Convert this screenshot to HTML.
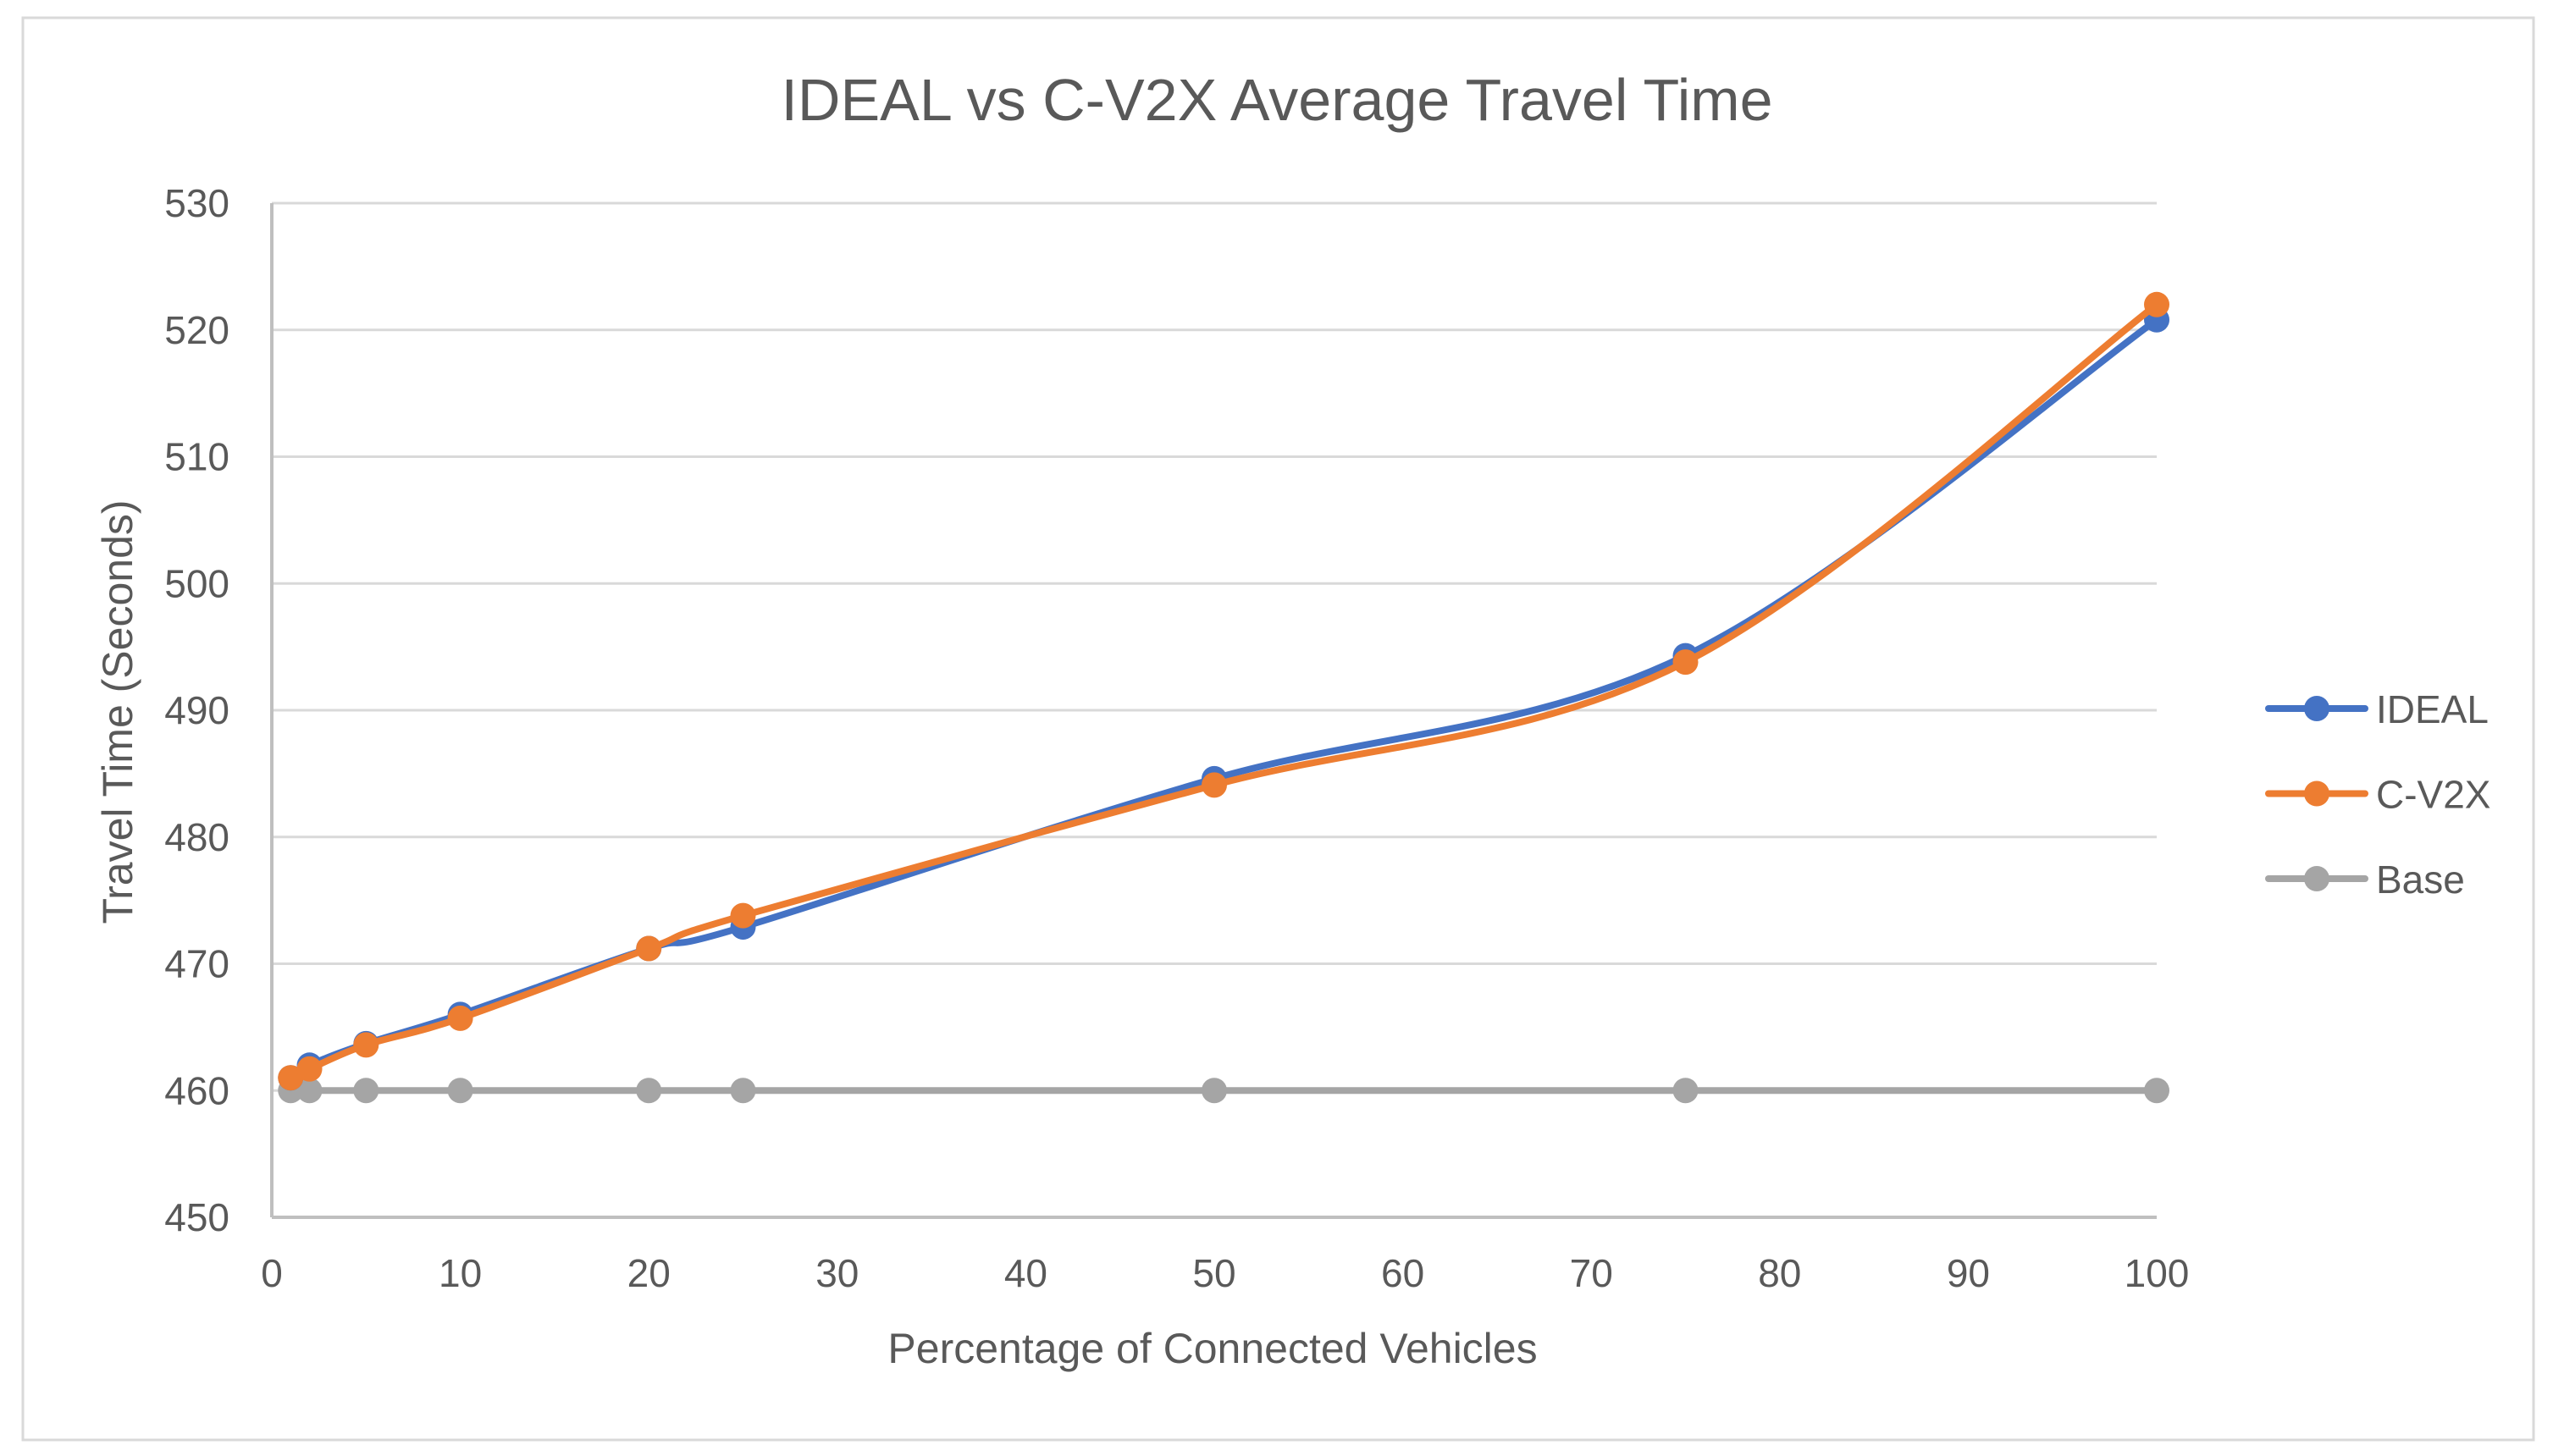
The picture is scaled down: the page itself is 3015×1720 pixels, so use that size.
<!DOCTYPE html>
<html><head><meta charset="utf-8"><style>
html,body{margin:0;padding:0;background:#fff}
svg{display:block;font-family:"Liberation Sans",sans-serif}
</style></head><body>
<svg id="chart" width="3015" height="1720" viewBox="0 0 3015 1720">
<rect x="27" y="21" width="2965" height="1680" fill="#fff" stroke="#d9d9d9" stroke-width="3"/>
<text x="1508" y="142" text-anchor="middle" font-size="70" fill="#595959">IDEAL vs C-V2X Average Travel Time</text>
<g id="grid"></g><g id="axes"></g><g id="series"></g>
<text transform="translate(156,841) rotate(-90)" text-anchor="middle" font-size="50" fill="#595959">Travel Time (Seconds)</text>
<text x="1432" y="1610" text-anchor="middle" font-size="50" fill="#595959">Percentage of Connected Vehicles</text>
<g id="legend"></g>
</svg>
<script>
const xValues=[1,2,5,10,20,25,50,75,100];
const idealValues=[461,462,463.7,466,471.2,472.9,484.6,494.3,520.8];
const cv2xValues=[461,461.7,463.6,465.7,471.2,473.8,484.1,493.8,522];
const baseValues=[460,460,460,460,460,460,460,460,460];
const yTicks=[450,460,470,480,490,500,510,520,530];
const xTicks=[0,10,20,30,40,50,60,70,80,90,100];
const seriesNames=["IDEAL","C-V2X","Base"];
const NS="http://www.w3.org/2000/svg";
const L=321,R=2547,T=240,B=1438;
const sx=v=>L+(v-0)/(100-0)*(R-L);
const sy=v=>B-(v-450)/(530-450)*(B-T);
function mk(tag,attrs,parent){const e=document.createElementNS(NS,tag);for(const k in attrs)e.setAttribute(k,attrs[k]);parent.appendChild(e);return e;}
const grid=document.getElementById('grid'),axes=document.getElementById('axes'),ser=document.getElementById('series'),leg=document.getElementById('legend');
yTicks.forEach(t=>{
 if(t!==450){const g=mk('line',{x1:L,x2:R,y1:sy(t),y2:sy(t),stroke:'#d9d9d9','stroke-width':3},grid);
 
 }
 const tx=mk('text',{x:L-50,y:sy(t)+16,'text-anchor':'end','font-size':46,fill:'#595959'},axes);tx.textContent=t;
 
 
});
xTicks.forEach(t=>{
 const tx=mk('text',{x:sx(t),y:B+82,'text-anchor':'middle','font-size':46,fill:'#595959'},axes);tx.textContent=t;
 
 
});
const ax=mk('line',{x1:L,x2:L,y1:T,y2:B,stroke:'#bfbfbf','stroke-width':4},axes);


const ax2=mk('line',{x1:L,x2:R,y1:B,y2:B,stroke:'#bfbfbf','stroke-width':4},axes);


function smoothPath(pts){
 let d='M'+pts[0][0]+','+pts[0][1];
 for(let i=0;i<pts.length-1;i++){
  const p0=pts[Math.max(0,i-1)],p1=pts[i],p2=pts[i+1],p3=pts[Math.min(pts.length-1,i+2)];
  const c1=[p1[0]+(p2[0]-p0[0])/6,p1[1]+(p2[1]-p0[1])/6];
  const c2=[p2[0]-(p3[0]-p1[0])/6,p2[1]-(p3[1]-p1[1])/6];
  d+=' C'+c1+' '+c2+' '+p2;
 }
 return d;
}
const colors=['#4472c4','#ed7d31','#a5a5a5'];
const all=[idealValues,cv2xValues,baseValues];
[2,0,1].forEach(si=>{
 const vals=all[si],pts=xValues.map((x,i)=>[sx(x),sy(vals[i])]);
 const g=mk('g',{},ser);
 
 
 const p=mk('path',{d:smoothPath(pts),fill:'none',stroke:colors[si],'stroke-width':8,'stroke-linecap':'round'},g);
 
 
 pts.forEach((pt,i)=>{const c=mk('circle',{cx:pt[0],cy:pt[1],r:15,fill:colors[si]},g);
  
  });
});
seriesNames.forEach((n,i)=>{
 const y=837+i*100.5;
 const g=mk('g',{},leg);
 
 
 mk('line',{x1:2679,x2:2793,y1:y,y2:y,stroke:colors[i],'stroke-width':8,'stroke-linecap':'round'},g);
 mk('circle',{cx:2736,cy:y,r:15,fill:colors[i]},g);
 const t=mk('text',{x:2806,y:y+17,'font-size':46,fill:'#595959'},g);t.textContent=n;
});
</script>
</body></html>
